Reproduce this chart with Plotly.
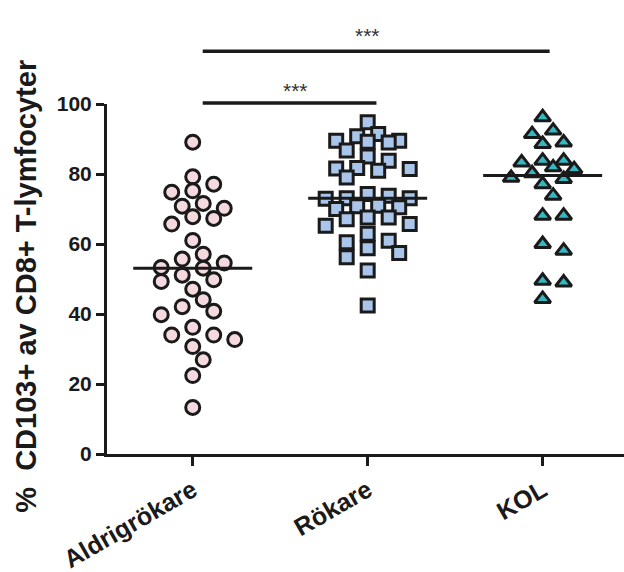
import numpy as np
import plotly.graph_objects as go

# ---------------- data ----------------
groups = ["Aldrigrökare", "Rökare", "KOL"]

aldrigrokare = [89.1, 79.2, 77.1, 74.8, 75.2, 70.8, 70.2, 71.6, 67.8, 67.3, 65.7,
                61.0, 57.1, 53.1, 54.6, 53.3, 55.7, 51.1, 49.8, 49.3, 47.1, 44.1,
                40.8, 39.8, 42.1, 36.2, 34.0, 32.7, 34.0, 30.7, 26.9, 22.4, 13.3]

rokare = [94.8, 91.4, 90.8, 89.5, 89.2, 89.0, 89.5, 86.7, 85.0, 83.8, 81.4, 81.6,
          81.7, 80.9, 79.0, 74.3, 73.1, 72.9, 73.1, 73.8, 70.8, 70.0, 70.9, 70.5,
          67.6, 65.7, 67.6, 67.1, 65.2, 62.9, 60.9, 60.5, 58.8, 56.2, 57.4, 52.4, 42.4]

kol = [96.2, 92.4, 91.4, 89.0, 88.6, 83.8, 83.8, 83.3, 81.9, 81.4, 80.2, 78.9,
       78.6, 77.1, 73.8, 68.1, 68.1, 60.0, 58.1, 49.5, 49.0, 44.3]

series = [aldrigrokare, rokare, kol]
y_tickvals = [0, 20, 40, 60, 80, 100]
y_title = "%\u00a0\u00a0CD103+ av CD8+ T-lymfocyter"
sig_labels = ["***", "***"]

# ---------------- layout geometry ----------------
W, H = 624, 572
ML, MR, MT, MB = 107, 0, 104, 118
Y_RANGE = [0, 100]
X_RANGE = [-0.49, 2.465]
plot_h = H - MT - MB
plot_w = W - ML - MR
px_per_y = plot_h / (Y_RANGE[1] - Y_RANGE[0])
px_per_x = plot_w / (X_RANGE[1] - X_RANGE[0])


def swarm(values, slot_px=10.5, min_dist=14.0, max_slot=4):
    """Simple beeswarm: horizontal offsets (in x-axis units), limited width."""
    vals = np.asarray(values, dtype=float)
    order = np.argsort(-vals, kind="stable")
    placed = []
    offs = np.zeros(len(vals))
    cand = [0]
    for k in range(1, max_slot + 1):
        cand += [k, -k]
    for i in order:
        y = vals[i] * px_per_y
        best, best_d = None, -1.0
        for k in cand:
            x = k * slot_px
            d = min([np.hypot(x - px, y - py) for px, py in placed] or [1e9])
            if d >= min_dist:
                best = x
                break
            if d > best_d + 1e-9:
                best_d, best = d, x
        placed.append((best, y))
        offs[i] = best / px_per_x
    return offs


styles = [
    dict(symbol="circle", size=14, color="#f4dadf", slot=10.5, max_slot=4),
    dict(symbol="square", size=13, color="#a9c5ea", slot=10.5, max_slot=4),
    dict(symbol="triangle-up", size=14, color="#35b8c1", slot=10.5, max_slot=3),
]

fig = go.Figure()
for gi, (vals, st) in enumerate(zip(series, styles)):
    offs = swarm(vals, slot_px=st["slot"], max_slot=st["max_slot"])
    fig.add_trace(go.Scatter(
        x=gi + offs, y=vals, mode="markers", cliponaxis=False, showlegend=False,
        marker=dict(symbol=st["symbol"], size=st["size"], color=st["color"],
                    line=dict(color="#1a1a1a", width=3)),
    ))
    med = float(np.median(vals))
    fig.add_shape(type="line", xref="x", yref="y", x0=gi - 0.34, x1=gi + 0.34,
                  y0=med, y1=med, line=dict(color="#1a1a1a", width=3))

# significance bars
fig.add_shape(type="line", xref="x", yref="paper", x0=0.057, x1=2.04, y0=1.151, y1=1.151,
              line=dict(color="#1a1a1a", width=3.5))
fig.add_shape(type="line", xref="x", yref="paper", x0=0.057, x1=1.05, y0=1.003, y1=1.003,
              line=dict(color="#1a1a1a", width=3.5))
fig.add_annotation(x=1.0, xref="x", y=1.234, yref="paper", text=sig_labels[0], showarrow=False,
                   font=dict(family="Liberation Sans", size=21, color="#333333"))
fig.add_annotation(x=0.59, xref="x", y=1.077, yref="paper", text=sig_labels[1], showarrow=False,
                   font=dict(family="Liberation Sans", size=21, color="#333333"))

# y title
fig.add_annotation(x=-0.192, xref="paper", y=0.48, yref="paper", text="<b>" + y_title + "</b>",
                   textangle=-90, showarrow=False,
                   font=dict(family="Liberation Sans", size=29, color="#1a1a1a"))

fig.update_layout(
    width=W, height=H,
    margin=dict(l=ML, r=MR, t=MT, b=MB, pad=0),
    paper_bgcolor="white", plot_bgcolor="white",
    font=dict(family="Liberation Sans", color="#1a1a1a"),
    xaxis=dict(range=X_RANGE, tickvals=[0, 1, 2], ticktext=["<b>" + g + "</b>" for g in groups],
               tickangle=-30, ticks="outside", ticklen=9, tickwidth=3, tickcolor="#1a1a1a",
               showline=True, linewidth=3, linecolor="#1a1a1a", showgrid=False, zeroline=False,
               tickfont=dict(size=25, color="#1a1a1a")),
    yaxis=dict(range=Y_RANGE, tickvals=y_tickvals, ticktext=["<b>%d</b>" % v for v in y_tickvals],
               ticks="outside", ticklen=8, tickwidth=3, tickcolor="#1a1a1a",
               showline=True, linewidth=3, linecolor="#1a1a1a", showgrid=False, zeroline=False,
               tickfont=dict(size=21, color="#1a1a1a")),
)

fig.write_html("out.html")
